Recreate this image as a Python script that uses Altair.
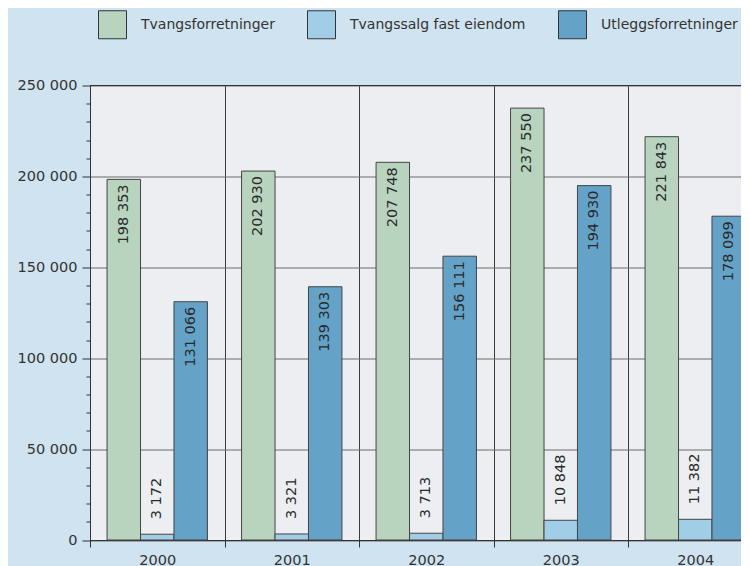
import altair as alt
import pandas as pd

years = ["2000", "2001", "2002", "2003", "2004"]
series = ["Tvangsforretninger", "Tvangssalg fast eiendom", "Utleggsforretninger"]
tvangsforretninger = [198353, 202930, 207748, 237550, 221843]
tvangssalg = [3172, 3321, 3713, 10848, 11382]
utlegg = [131066, 139303, 156111, 194930, 178099]
colors = ["#B9D4BE", "#A2CDE6", "#64A2C8"]

rows = []
for s, vals in zip(series, [tvangsforretninger, tvangssalg, utlegg]):
    for y, v in zip(years, vals):
        rows.append({"year": y, "series": s, "value": v,
                     "label": f"{v:,}".replace(",", " ")})
df = pd.DataFrame(rows)

FONT = "DejaVu Sans"
FS = 14.5
TXT = "#333333"
major = "datum.value % 50000 == 0"

x_enc = alt.X(
    "year:N", sort=years, title=None,
    scale=alt.Scale(range=[0, 672.5], paddingInner=0, paddingOuter=0),
    axis=alt.Axis(tickBand="extent", grid=True, gridColor="#3a3a3a", gridWidth=1,
                  domainColor="#333333", tickColor="#333333", tickSize=7,
                  labelPadding=6, labelAngle=0, labelBaseline="top",
                  labelFont=FONT, labelFontSize=FS, labelColor=TXT),
)
y_enc = alt.Y(
    "value:Q", title=None,
    scale=alt.Scale(domain=[0, 250000], nice=False),
    axis=alt.Axis(
        values=list(range(0, 250001, 10000)),
        tickCount=40,
        labelExpr="datum.value % 50000 == 0 ? replace(format(datum.value, ','), regexp(',', 'g'), ' ') : ''",
        labelOverlap=False,
        tickSize={"condition": {"test": major, "value": 8}, "value": 4},
        gridOpacity={"condition": {"test": major, "value": 1}, "value": 0},
        grid=True, gridColor="#6a6a6a", gridWidth=1,
        domainColor="#333333", tickColor="#333333",
        labelPadding=5, labelFont=FONT, labelFontSize=FS, labelColor=TXT,
    ),
)
xoff = alt.XOffset("series:N", sort=series,
                   scale=alt.Scale(paddingInner=0, paddingOuter=0.51))

base = alt.Chart(df)

bars = base.mark_bar(stroke="#444444", strokeWidth=1).encode(
    x=x_enc, y=y_enc, xOffset=xoff,
    color=alt.Color(
        "series:N", sort=series,
        scale=alt.Scale(domain=series, range=colors),
        legend=alt.Legend(title=None, orient="none", legendX=8, legendY=-75.5,
                          direction="horizontal", symbolType="square",
                          symbolSize=784, symbolStrokeColor="#333333",
                          symbolStrokeWidth=1, symbolOpacity=1,
                          labelFont=FONT, labelFontSize=14, labelColor=TXT,
                          labelLimit=400, labelOffset=14, columnPadding=30),
    ),
)

inside = base.transform_filter("datum.value > 50000").mark_text(
    angle=270, align="right", baseline="middle", dx=-5,
    font=FONT, fontSize=FS, color="#2a2a2a",
).encode(x=x_enc, y=y_enc, xOffset=xoff, text="label:N")

outside = base.transform_filter("datum.value <= 50000").mark_text(
    angle=270, align="left", baseline="middle", dx=15,
    font=FONT, fontSize=FS, color="#2a2a2a",
).encode(x=x_enc, y=y_enc, xOffset=xoff, text="label:N")

top_rule = alt.Chart(pd.DataFrame({"value": [250000]})).mark_rule(
    color="#333333", strokeWidth=1
).encode(y=alt.Y("value:Q"))

chart = alt.layer(bars, inside, outside, top_rule).properties(
    width=651, height=454.5,
    autosize=alt.AutoSizeParams(type="none"),
    padding={"left": 82, "top": 77.5, "right": 0, "bottom": 26},
).configure(
    background="#D0E3F0",
).configure_view(fill="#ECEEF1", stroke=None)

chart.save("out.html", embed_options={"renderer": "svg", "actions": False})
